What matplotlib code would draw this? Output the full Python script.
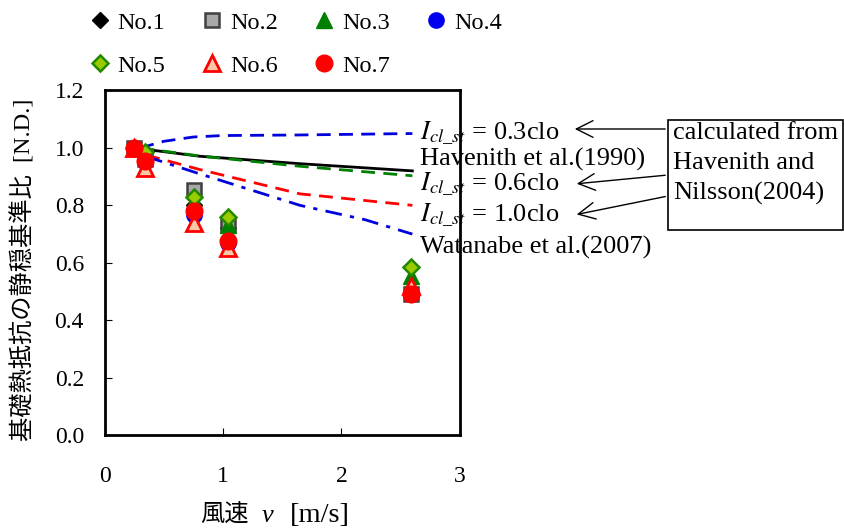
import matplotlib
matplotlib.use("Agg")
import matplotlib.pyplot as plt
from matplotlib.patches import FancyArrowPatch, Rectangle

plt.rcParams['font.family'] = ['Liberation Serif', 'Noto Sans CJK JP']
plt.rcParams['mathtext.fontset'] = 'stix'

# measured points (wind speed vs normalised resistance)
wind = [0.25, 0.34, 0.75, 1.04, 2.59]
labels = ["No.1", "No.2", "No.3", "No.4", "No.5", "No.6", "No.7"]
no1 = [1.0, 0.96, 0.80, 0.72, 0.49]
no2 = [1.0, 0.96, 0.855, 0.73, 0.49]
no3 = [1.0, 0.98, 0.815, 0.73, 0.555]
no4 = [1.0, 0.95, 0.765, 0.67, 0.49]
no5 = [1.0, 0.985, 0.83, 0.76, 0.585]
no6 = [1.0, 0.93, 0.74, 0.65, 0.52]
no7 = [1.0, 0.955, 0.78, 0.675, 0.49]

# model curves
hav90_x = [0.25, 0.8, 1.65, 2.6]
hav90_y = [1.0, 0.971, 0.945, 0.92]
clo03_x = [0.3, 0.5, 0.75, 1.0, 1.65, 2.6]
clo03_y = [1.0, 1.023, 1.038, 1.043, 1.045, 1.05]
clo06_x = [0.3, 0.8, 1.65, 2.6]
clo06_y = [1.0, 0.972, 0.936, 0.903]
clo10_x = [0.35, 0.8, 1.65, 2.6]
clo10_y = [0.975, 0.925, 0.84, 0.80]
wat_x = [0.35, 0.8, 1.65, 2.2, 2.6]
wat_y = [0.97, 0.91, 0.80, 0.75, 0.70]

styles = [
    dict(marker='D', color='black', mfc='black', mec='black', ms=8),
    dict(marker='s', color='#808080', mfc='#a8a8a8', mec='#404040', ms=10, mew=1.8),
    dict(marker='^', color='#008000', mfc='#008000', mec='#008000', ms=11),
    dict(marker='o', color='#0000ee', mfc='#0000ee', mec='#0000ee', ms=11),
    dict(marker='D', color='#339900', mfc='#99cc00', mec='#228800', ms=8.5, mew=1.8),
    dict(marker='^', color='red', mfc='#f8c8a8', mec='red', ms=11, mew=2),
    dict(marker='o', color='red', mfc='red', mec='red', ms=12),
]

fig = plt.figure(figsize=(8.45, 5.32), dpi=100)
ax = fig.add_axes([0.124, 0.182, 0.42, 0.648])

ax.plot(hav90_x, hav90_y, '-', color='black', lw=2)
ax.plot(clo03_x, clo03_y, '--', color='#0000dd', lw=2, dashes=(5, 3))
ax.plot(clo06_x, clo06_y, '--', color='#008000', lw=2, dashes=(5, 3))
ax.plot(clo10_x, clo10_y, '--', color='red', lw=2, dashes=(5, 3))
ax.plot(wat_x, wat_y, '-.', color='#0000dd', lw=2, dashes=(6, 3, 1.5, 3))

handles = []
for vals, lab, st in zip([no1, no2, no3, no4, no5, no6, no7], labels, styles):
    h, = ax.plot(wind, vals, linestyle='none', label=lab, **st)
    handles.append(h)

ax.set_xlim(0, 3)
ax.set_ylim(0, 1.2)
ax.set_xticks([0, 1, 2, 3])
ax.set_yticks([0.0, 0.2, 0.4, 0.6, 0.8, 1.0, 1.2])
ax.set_yticklabels(["0.0", "0.2", "0.4", "0.6", "0.8", "1.0", "1.2"])
ax.tick_params(direction='in', length=5, width=0.8, labelsize=17)
ax.tick_params(axis='x', pad=22)
ax.tick_params(axis='y', pad=15)
for s in ax.spines.values():
    s.set_linewidth(2)

ax.set_ylabel("基礎熱抵抗の静穏基準比  [N.D.]", fontsize=17.5)
ax.yaxis.set_label_coords(-0.195, 0.48)

# x label: CJK + italic v + unit, drawn as separate pieces
W, H = 845.0, 532.0
def fx(px):
    return px / W
def fy(py):
    return 1 - py / H

fig.text(fx(200), fy(516), "風速", fontsize=17.5, va='center', ha='left')
fig.text(fx(262), fy(516), "v", fontsize=19, style='italic', va='center', ha='left')
fig.text(fx(290), fy(516), "[m/s]", fontsize=20.5, va='center', ha='left')

# legend in row order: No.1-4 on first row, No.5-7 on second
order = [0, 4, 1, 5, 2, 6, 3]
fig.legend([handles[i] for i in order], [labels[i] for i in order],
           ncol=4, loc='upper left', bbox_to_anchor=(0.089, 1.005),
           frameon=False, fontsize=17.5, handlelength=0.8, handletextpad=0.35,
           columnspacing=1.5, labelspacing=0.85, borderaxespad=0.2)

tfs = 19
fig.text(fx(420), fy(133), "$I_{cl\\_st}$ = 0.3clo", fontsize=tfs, va='center')
fig.text(fx(420), fy(159), "Havenith et al.(1990)", fontsize=tfs, va='center')
fig.text(fx(420), fy(184), "$I_{cl\\_st}$ = 0.6clo", fontsize=tfs, va='center')
fig.text(fx(420), fy(215), "$I_{cl\\_st}$ = 1.0clo", fontsize=tfs, va='center')
fig.text(fx(420), fy(247), "Watanabe et al.(2007)", fontsize=tfs, va='center')

fig.add_artist(Rectangle((fx(668), fy(230)), fx(843) - fx(668), fy(120) - fy(230),
                         transform=fig.transFigure, fc='white', ec='black', lw=1.2))
fig.text(fx(673), fy(133), "calculated from", fontsize=tfs, va='center', ha='left')
fig.text(fx(673), fy(163), "Havenith and", fontsize=tfs, va='center', ha='left')
fig.text(fx(673), fy(193), "Nilsson(2004)", fontsize=tfs, va='center', ha='left')

arrow = dict(arrowstyle='->', color='black', lw=1, mutation_scale=30)
for (x0, y0, x1, y1) in [(668, 129, 572, 129), (668, 175, 574, 184), (668, 196, 574, 215)]:
    fig.add_artist(FancyArrowPatch((fx(x0), fy(y0)), (fx(x1), fy(y1)),
                                   transform=fig.transFigure, **arrow))

fig.savefig("out.png", dpi=100)
